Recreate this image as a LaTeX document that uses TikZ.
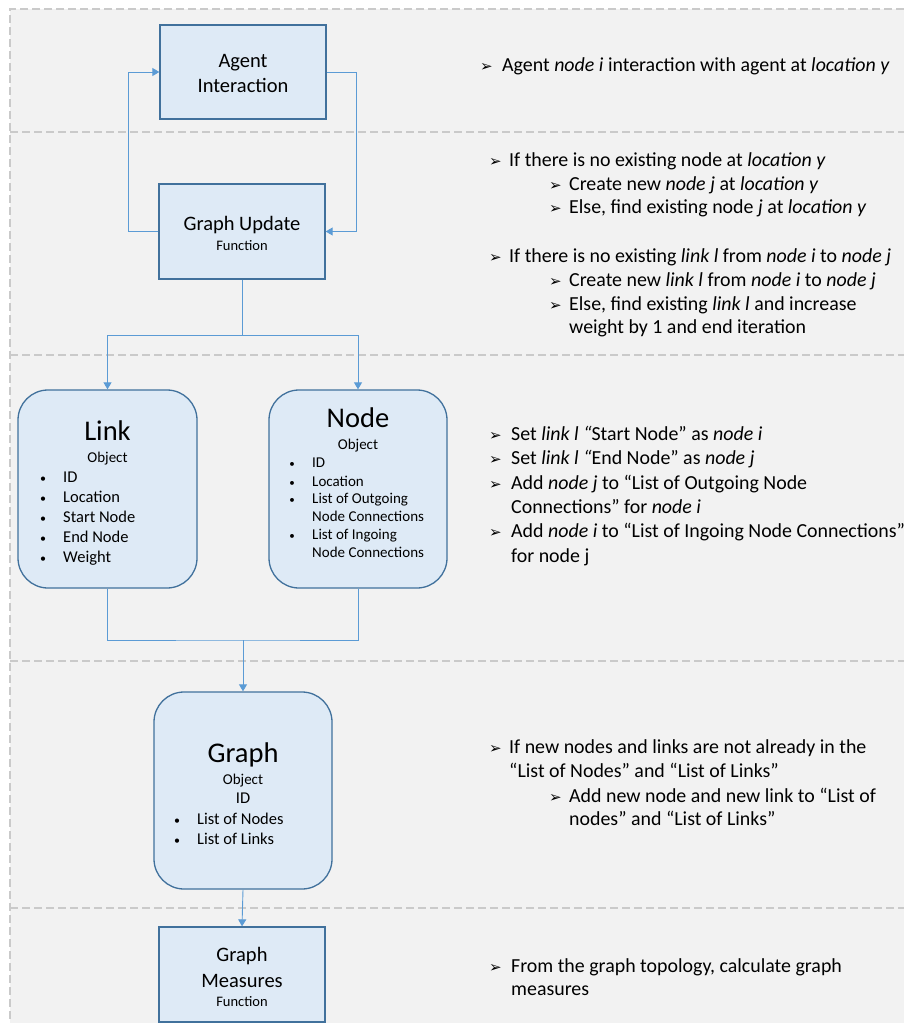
\documentclass[tikz,border=0pt]{standalone}
\usepackage{fontspec}
\setmainfont{Carlito}
\newfontfamily\arrfont{DejaVu Sans}
\usetikzlibrary{arrows.meta,calc}
\definecolor{bgc}{HTML}{F2F2F2}
\definecolor{dashc}{HTML}{CACACA}
\definecolor{boxfill}{HTML}{DEEAF6}
\definecolor{boxline}{HTML}{41719C}
\definecolor{connc}{HTML}{5B9BD5}
\newcommand{\arrw}[1]{\makebox[#1][l]{\arrfont\fontsize{15}{15}\selectfont ➢}}
\begin{document}
\begin{tikzpicture}[x=1pt,y=-1pt,
  fbox/.style={draw=boxline, line width=1.3pt, fill=boxfill, inner sep=0pt},
  obox/.style={fbox, rounded corners=30pt},
  conn/.style={draw=connc, line width=0.9pt},
  aconn/.style={conn, -{Triangle[width=8pt,length=7pt]}},
  sep/.style={draw=dashc, line width=1.3pt, dash pattern=on 8pt off 4pt},
  txt/.style={inner sep=0pt, anchor=base},
  rtxt/.style={inner sep=0pt, anchor=base west, font=\fontsize{19.9}{24}\selectfont},
  ttl/.style={txt, font=\fontsize{20.5}{25}\selectfont},
  big/.style={txt, font=\fontsize{28.5}{30}\selectfont},
  sml/.style={txt, font=\fontsize{14.5}{16}\selectfont},
  itemL/.style={inner sep=0pt, anchor=base west, font=\fontsize{16.5}{18}\selectfont},
  itemN/.style={inner sep=0pt, anchor=base west, font=\fontsize{15}{17}\selectfont},
  bulL/.style={txt, font=\fontsize{12}{14}\selectfont},
  bulN/.style={txt, font=\fontsize{11}{13}\selectfont}
]
\useasboundingbox (0,0) rectangle (904,1023);
% background
\fill[bgc] (10,9) rectangle (904,1023);
\draw[sep] (904,9) -- (10,9) -- (10,1023);
\draw[sep] (10,132) -- (904,132);
\draw[sep] (10,355) -- (904,355);
\draw[sep] (10,661) -- (904,661);
\draw[sep] (10,908) -- (904,908);

% boxes
\node[fbox, minimum width=166pt, minimum height=94pt] (agent) at (243,72) {};
\node[fbox, minimum width=166pt, minimum height=95pt] (gu) at (242,231.5) {};
\node[obox, minimum width=179pt, minimum height=198pt] (link) at (107.5,489) {};
\node[obox, minimum width=178pt, minimum height=198pt] (nodeobj) at (358,489) {};
\node[obox, minimum width=178pt, minimum height=197pt] (graph) at (243,790.5) {};
\node[fbox, minimum width=166pt, minimum height=95pt] (gm) at (242,974.5) {};

% connectors
\draw[aconn] (gu.west) -- ++(-30,0) |- (agent.west);
\draw[aconn] (agent.east) -- ++(30,0) |- (gu.east);
\coordinate (split) at ($(gu.south)+(0,56)$);
\draw[conn] (gu.south) -- (split);
\draw[aconn] (split) -| (link.north);
\draw[aconn] (split) -| (nodeobj.north);
\coordinate (merge) at (243,640);
\draw[conn] (link.south) |- (merge) -| (nodeobj.south);
\draw[aconn] (merge) -- (graph.north);
\draw[aconn] (graph.south) -- (gm.north);

% box texts
\node[ttl] (agt1) at (243,67) {Agent};
\node[ttl] (agt2) at (243,92) {Interaction};
\node[ttl] (gut1) at (242,230) {Graph Update};
\node[sml] (gut2) at (242,250) {Function};

\node[big] (lkt) at (107.5,440) {Link};
\node[sml, font=\fontsize{15}{17}\selectfont] (lko) at (107.5,462) {Object};
\foreach \yy/\tt [count=\i] in {482/ID,502/Location,522/Start Node,542/End Node,562/Weight}{
  \node[bulL] (lkb\i) at (43,\yy) {•};
  \node[itemL] (lki\i) at (63,\yy) {\tt};
}

\node[big] (ndt) at (358,427) {Node};
\node[sml, font=\fontsize{15}{17}\selectfont] (ndo) at (358,449) {Object};
\foreach \yy/\tt [count=\i] in {467/ID,486/Location,503/List of Outgoing,539/List of Ingoing}{
  \node[bulN] (ndb\i) at (292,\yy) {•};
  \node[itemN] (ndi\i) at (312,\yy) {\tt};
}
\node[itemN] (ndc1) at (312,521) {Node Connections};
\node[itemN] (ndc2) at (312,557) {Node Connections};

\node[big] (grt) at (243,762) {Graph};
\node[sml, font=\fontsize{15}{17}\selectfont] (gro) at (243,784) {Object};
\node[txt, font=\fontsize{16.5}{18}\selectfont] (grid) at (243,803) {ID};
\node[bulL] (grb1) at (177,824) {•};
\node[itemL] (gri1) at (197,824) {List of Nodes};
\node[bulL] (grb2) at (177,844) {•};
\node[itemL] (gri2) at (197,844) {List of Links};

\node[ttl] (gmt1) at (242,961) {Graph};
\node[ttl] (gmt2) at (242,987) {Measures};
\node[sml] (gmt3) at (242,1006) {Function};

% right-hand texts
\node[rtxt] (r1) at (480,71) {\arrw{22pt}Agent \textit{node i} interaction with agent at \textit{location y}};

\node[rtxt] (r2) at (489,166) {\arrw{20pt}If there is no existing node at \textit{location y}};
\node[rtxt] (r3) at (549,190) {\arrw{20pt}Create new \textit{node j} at \textit{location y}};
\node[rtxt] (r4) at (549,213) {\arrw{20pt}Else, find existing node \textit{j} at \textit{location y}};
\node[rtxt] (r5) at (489,262) {\arrw{20pt}If there is no existing \textit{link l} from \textit{node i} to \textit{node j}};
\node[rtxt] (r6) at (549,286) {\arrw{20pt}Create new \textit{link l} from \textit{node i} to \textit{node j}};
\node[rtxt] (r7) at (549,310) {\arrw{20pt}Else, find existing \textit{link l} and increase};
\node[rtxt] (r8) at (569,333) {weight by 1 and end iteration};

\node[rtxt] (r9) at (489,440) {\arrw{22pt}Set \textit{link l “}Start Node” as \textit{node i}};
\node[rtxt] (r10) at (489,464) {\arrw{22pt}Set \textit{link l “}End Node” as \textit{node j}};
\node[rtxt] (r11) at (489,489) {\arrw{22pt}Add \textit{node j} to “List of Outgoing Node};
\node[rtxt] (r12) at (511,513) {Connections” for \textit{node i}};
\node[rtxt] (r13) at (489,537) {\arrw{22pt}Add \textit{node i} to “List of Ingoing Node Connections”};
\node[rtxt] (r14) at (511,562) {for node j};

\node[rtxt] (r15) at (489,753) {\arrw{20pt}If new nodes and links are not already in the};
\node[rtxt] (r16) at (509,777) {“List of Nodes” and “List of Links”};
\node[rtxt] (r17) at (549,802) {\arrw{20pt}Add new node and new link to “List of};
\node[rtxt] (r18) at (569,825) {nodes” and “List of Links”};

\node[rtxt] (r19) at (489,972) {\arrw{22pt}From the graph topology, calculate graph};
\node[rtxt] (r20) at (511,995) {measures};
\end{tikzpicture}
\end{document}
